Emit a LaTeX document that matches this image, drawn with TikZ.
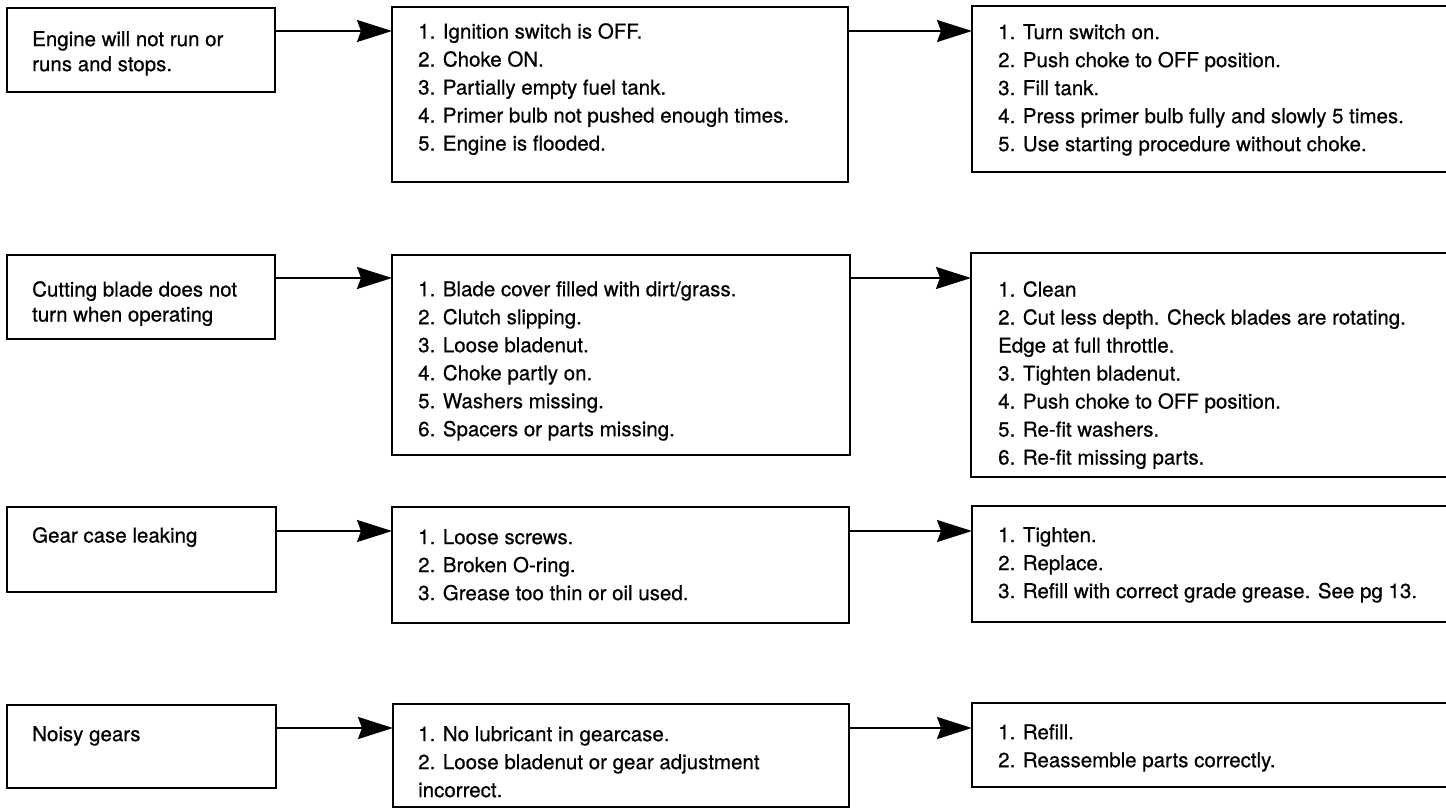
\documentclass[tikz,border=0pt]{standalone}
\usepackage{fontspec}
\setmainfont{TeX Gyre Heros}[BoldFont={TeX Gyre Heros}, BoldFeatures={FakeBold=0.6}]
\usetikzlibrary{arrows.meta}
\begin{document}
\begin{tikzpicture}[x=1pt,y=-1pt,
  box/.style={draw=black, line width=2.6pt, rectangle, inner sep=0pt, outer sep=0pt, anchor=north west},
  txt/.style={anchor=north west, inner sep=0pt, align=left, font=\fontsize{20.5}{28}\selectfont\bfseries},
  ltxt/.style={anchor=north west, inner sep=0pt, align=left, font=\fontsize{20.5}{25}\selectfont\bfseries},
  arr/.style={line width=2pt, -{Stealth[length=35pt,width=22pt,inset=4pt]}}]
\useasboundingbox (0,0) rectangle (1446,810);
\fill[white] (0,0) rectangle (1446,810);
\clip (0,0) rectangle (1446,810);

% Row 1
\node[box, minimum width=268pt, minimum height=84pt] (L1) at (7,8) {};
\node[box, minimum width=456pt, minimum height=175pt] (C1) at (392,7) {};
\node[box, minimum width=500pt, minimum height=166pt] (R1) at (972,6) {};
\node[ltxt] (tL1) at (32,31) {Engine will not run or\\runs and stops.};
\node[txt] (tC1) at (418,23) {1. Ignition switch is OFF.\\2. Choke ON.\\3. Partially empty fuel tank.\\4. Primer bulb not pushed enough times.\\5. Engine is flooded.};
\node[txt] (tR1) at (998,24) {1. Turn switch on.\\2. Push choke to OFF position.\\3. Fill tank.\\4. Press primer bulb fully and slowly 5 times.\\5. Use starting procedure without choke.};
\coordinate (y1) at (0,31);
\draw[arr] (L1.east |- y1) -- (C1.west |- y1);
\draw[arr] (C1.east |- y1) -- (R1.west |- y1);

% Row 2
\node[box, minimum width=268pt, minimum height=84pt] (L2) at (7,255) {};
\node[box, minimum width=458pt, minimum height=200pt] (C2) at (392,255) {};
\node[box, minimum width=500pt, minimum height=224pt] (R2) at (971,253) {};
\node[ltxt] (tL2) at (32,281) {Cutting blade does not\\turn when operating};
\node[txt] (tC2) at (418,281) {1. Blade cover filled with dirt/grass.\\2. Clutch slipping.\\3. Loose bladenut.\\4. Choke partly on.\\5. Washers missing.\\6. Spacers or parts missing.};
\node[txt] (tR2) at (998,281) {1. Clean\\2. Cut less depth. Check blades are rotating.\\Edge at full throttle.\\3. Tighten bladenut.\\4. Push choke to OFF position.\\5. Re-fit washers.\\6. Re-fit missing parts.};
\coordinate (y2) at (0,278);
\draw[arr] (L2.east |- y2) -- (C2.west |- y2);
\draw[arr] (C2.east |- y2) -- (R2.west |- y2);

% Row 3
\node[box, minimum width=269pt, minimum height=85pt] (L3) at (7,507) {};
\node[box, minimum width=457pt, minimum height=116pt] (C3) at (392,507) {};
\node[box, minimum width=500pt, minimum height=116pt] (R3) at (972,506) {};
\node[ltxt] (tL3) at (32,527) {Gear case leaking};
\node[txt] (tC3) at (418,529) {1. Loose screws.\\2. Broken O-ring.\\3. Grease too thin or oil used.};
\node[txt] (tR3) at (998,527) {1. Tighten.\\2. Replace.\\3. Refill with correct grade grease. See pg 13.};
\coordinate (y3) at (0,531);
\draw[arr] (L3.east |- y3) -- (C3.west |- y3);
\draw[arr] (C3.east |- y3) -- (R3.west |- y3);

% Row 4
\node[box, minimum width=269pt, minimum height=83pt] (L4) at (7,705) {};
\node[box, minimum width=456pt, minimum height=103pt] (C4) at (393,704) {};
\node[box, minimum width=500pt, minimum height=84pt] (R4) at (972,703) {};
\node[ltxt] (tL4) at (32,726) {Noisy gears};
\node[txt] (tC4) at (418,726) {1. No lubricant in gearcase.\\2. Loose bladenut or gear adjustment\\incorrect.};
\node[txt] (tR4) at (998,724) {1. Refill.\\2. Reassemble parts correctly.};
\coordinate (y4) at (0,728);
\draw[arr] (L4.east |- y4) -- (C4.west |- y4);
\draw[arr] (C4.east |- y4) -- (R4.west |- y4);
\end{tikzpicture}
\end{document}
